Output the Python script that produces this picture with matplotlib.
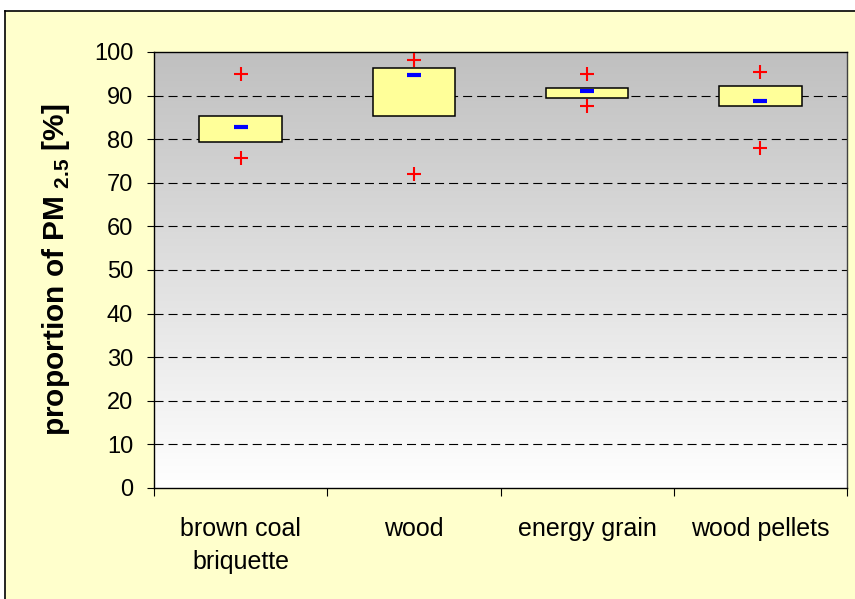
import numpy as np
import matplotlib
matplotlib.use('Agg')
import matplotlib.pyplot as plt
from matplotlib.colors import LinearSegmentedColormap
from matplotlib.patches import Rectangle
from matplotlib.lines import Line2D

plt.rcParams['font.family'] = ['Liberation Sans', 'DejaVu Sans']
plt.rcParams['mathtext.fontset'] = 'custom'
plt.rcParams['mathtext.rm'] = 'Liberation Sans'
plt.rcParams['mathtext.bf'] = 'Liberation Sans:bold'
plt.rcParams['lines.scale_dashes'] = False

# values
categories = ['brown coal\nbriquette', 'wood', 'energy grain', 'wood pellets']
box_low = [79.4, 85.35, 89.4, 87.55]
box_high = [85.35, 96.3, 91.8, 92.2]
medians = [82.8, 94.8, 91.1, 88.85]
max_vals = [95.0, 98.2, 95.0, 95.4]
min_vals = [75.7, 72.1, 87.6, 78.0]

W, H = 855, 599
fig = plt.figure(figsize=(W / 100, H / 100), dpi=100, facecolor='white')

# yellow chart area with border on top/left
top = 1 - 10.5 / H
left = 4.5 / W
fig.patches.append(Rectangle((left, 0), 1 - left, top, transform=fig.transFigure,
                             facecolor='#FFFFCC', edgecolor='none', zorder=-2))
fig.add_artist(Line2D([left, 1], [top, top], color='black', linewidth=1.2,
                      transform=fig.transFigure, zorder=-1))
fig.add_artist(Line2D([left, left], [0, top], color='black', linewidth=1.2,
                      transform=fig.transFigure, zorder=-1))

ax = fig.add_axes([154 / W, 1 - 488 / H, 693 / W, 436 / H])
ax.set_zorder(1)
ax.set_xlim(-0.5, 3.5)
ax.set_ylim(0, 100)

# grey-to-white gradient background
cmap = LinearSegmentedColormap.from_list('bg', ['#FFFFFF', '#C0C0C0'])
grad = np.linspace(0, 1, 256).reshape(-1, 1)
ax.imshow(grad, extent=[-0.5, 3.5, 0, 100], origin='lower', aspect='auto',
          cmap=cmap, zorder=0)

for y in range(10, 100, 10):
    ax.axhline(y, color='black', linewidth=0.8, linestyle=(0, (6.5, 3.6)), zorder=1)

x = np.arange(len(categories))
heights = np.array(box_high) - np.array(box_low)
ax.bar(x, heights, bottom=box_low, width=0.475, color='#FFFF99',
       edgecolor='black', linewidth=1.1, zorder=2)
ax.plot(x, medians, linestyle='none', marker='_', markersize=10,
        markeredgewidth=3, color='#0000FF', zorder=3)
ax.plot(x, max_vals, linestyle='none', marker='+', markersize=10,
        markeredgewidth=1.5, color='#FF0000', zorder=3)
ax.plot(x, min_vals, linestyle='none', marker='+', markersize=10,
        markeredgewidth=1.5, color='#FF0000', zorder=3)

ax.set_yticks(range(0, 101, 10))
ax.tick_params(axis='y', direction='out', length=5, width=0.8, pad=10,
               labelsize=17)
ax.set_xticks(x)
ax.set_xticklabels(categories, linespacing=1.45)
ax.set_xticks(np.arange(-0.5, 4, 1), minor=True)
ax.tick_params(axis='x', which='major', length=0, pad=21, labelsize=18)
ax.tick_params(axis='x', which='minor', direction='out', length=6, width=0.8)

for s in ax.spines.values():
    s.set_color('black')
    s.set_linewidth(1)
ax.spines['right'].set_color('#404040')

ax.set_ylabel(r'proportion of PM$_{\ \mathbf{2.5}}$ [%]', fontsize=21.5,
              fontweight='bold')
ax.yaxis.set_label_coords(-0.118, 0.5)

fig.savefig('out.png', dpi=100, facecolor=fig.get_facecolor())
